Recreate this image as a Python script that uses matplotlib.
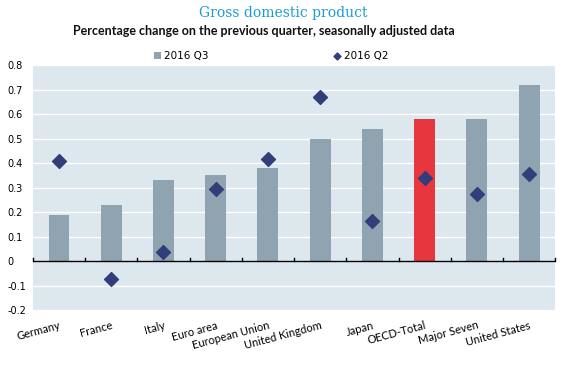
import matplotlib.pyplot as plt
import numpy as np

countries = ['Germany', 'France', 'Italy', 'Euro area', 'European Union',
             'United Kingdom', 'Japan', 'OECD-Total', 'Major Seven', 'United States']
q3 = [0.19, 0.23, 0.33, 0.35, 0.38, 0.50, 0.54, 0.58, 0.58, 0.72]
q2 = [0.41, -0.075, 0.035, 0.295, 0.415, 0.67, 0.165, 0.34, 0.275, 0.355]
yticks = [-0.2, -0.1, 0, 0.1, 0.2, 0.3, 0.4, 0.5, 0.6, 0.7, 0.8]
ytick_labels = ['-0.2', '-0.1', '0', '0.1', '0.2', '0.3', '0.4', '0.5', '0.6', '0.7', '0.8']

bar_col = '#8FA3B0'
hi_col = '#E8363F'
dia_col = '#313E7A'

fig = plt.figure(figsize=(5.66, 3.66), dpi=100)
ax = fig.add_axes([0.058, 0.153, 0.923, 0.669])
ax.set_facecolor('#DDE7EE')

x = np.arange(len(countries))
colors = [hi_col if c == 'OECD-Total' else bar_col for c in countries]
bars = ax.bar(x, q3, width=0.4, color=colors, zorder=2)
dots = ax.scatter(x, q2, marker='D', s=50, color=dia_col, zorder=3)

ax.set_xlim(-0.5, len(countries) - 0.5)
ax.set_ylim(-0.2, 0.8)
ax.set_yticks(yticks)
ax.set_yticklabels(ytick_labels, fontsize=7)
ax.grid(axis='y', color='white', linewidth=1, zorder=1)
ax.tick_params(axis='y', length=0, pad=18)
for lab in ax.get_yticklabels():
    lab.set_horizontalalignment('left')
ax.set_xticks(x)
ax.set_xticklabels(countries, rotation=15, ha='right', fontsize=8, rotation_mode='anchor',
                   family='Lato')
ax.tick_params(axis='x', length=0, pad=7)
for s in ax.spines.values():
    s.set_visible(False)

# zero line with separators
ax.axhline(0, color='black', linewidth=1, zorder=2)
for b in np.arange(-0.5, len(countries)):
    ax.plot([b, b], [0, 0.012], color='black', linewidth=1, zorder=2, clip_on=False)

fig.text(0.5, 0.965, 'Gross domestic product', ha='center', va='center',
         fontsize=10, color='#1A9CD4', family='DejaVu Serif')
fig.text(0.466, 0.915, 'Percentage change on the previous quarter, seasonally adjusted data',
         ha='center', va='center', fontsize=9, fontweight='bold', color='#111111',
         family='Lato')

fig.legend([bars.patches[0], dots], ['2016 Q3', '2016 Q2'], loc='center',
           bbox_to_anchor=(0.479, 0.847), ncol=2, frameon=False,
           fontsize=7.5, columnspacing=12, handlelength=0.7, handletextpad=0.3,
           markerscale=0.5)

fig.savefig('out.png', dpi=100)
